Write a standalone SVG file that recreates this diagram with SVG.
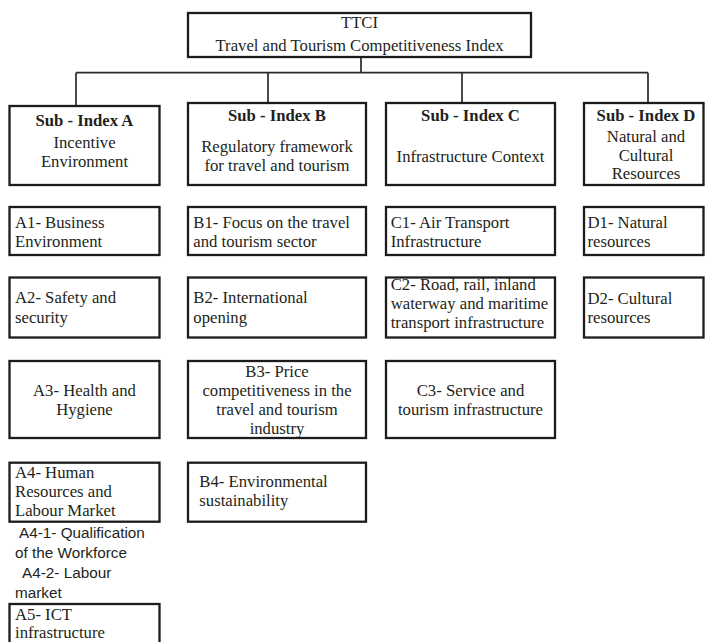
<svg xmlns="http://www.w3.org/2000/svg" width="705" height="642" viewBox="0 0 705 642">
<style>
  .box { fill: #ffffff; stroke: #1c1c1c; stroke-width: 2.3; }
  .conn { fill: none; stroke: #2a2a2a; stroke-width: 1.7; }
  text { font-family: "Liberation Serif", "Times New Roman", serif; font-size: 16.7px; fill: #231f20; }
  .c { text-anchor: middle; }
  .b { font-weight: bold; }
  .sans { font-family: "Liberation Sans", Arial, sans-serif; font-size: 15.3px; }
</style>
<rect width="705" height="642" fill="#ffffff"/>

<g id="connectors">
  <path class="conn" d="M361 57 V72.7"/>
  <path class="conn" d="M76 72.7 H648"/>
  <path class="conn" d="M76 72.7 V106"/>
  <path class="conn" d="M268 72.7 V103"/>
  <path class="conn" d="M462 72.7 V103"/>
  <path class="conn" d="M648 72.7 V103"/>
</g>

<g id="ttci">
  <rect class="box" x="188" y="13" width="343" height="44"/>
  <text class="c" x="359.5" y="28">TTCI</text>
  <text class="c" x="359.5" y="51">Travel and Tourism Competitiveness Index</text>
</g>

<g id="sub-a">
  <rect class="box" x="9.5" y="106" width="150" height="79"/>
  <text class="c b" x="84.5" y="126">Sub - Index A</text>
  <text class="c" x="84.5" y="148">Incentive</text>
  <text class="c" x="84.5" y="166.7">Environment</text>
</g>
<g id="sub-b">
  <rect class="box" x="188" y="103" width="178" height="82"/>
  <text class="c b" x="277" y="120.7">Sub - Index B</text>
  <text class="c" x="277" y="151.5">Regulatory framework</text>
  <text class="c" x="277" y="171">for travel and tourism</text>
</g>
<g id="sub-c">
  <rect class="box" x="386" y="103" width="169" height="82"/>
  <text class="c b" x="470.5" y="120.7">Sub - Index C</text>
  <text class="c" x="470.5" y="161.7">Infrastructure Context</text>
</g>
<g id="sub-d">
  <rect class="box" x="584" y="103" width="119.5" height="82"/>
  <text class="c b" x="646" y="120.7">Sub - Index D</text>
  <text class="c" x="646" y="141.7">Natural and</text>
  <text class="c" x="646" y="160.7">Cultural</text>
  <text class="c" x="646" y="179.3">Resources</text>
</g>

<g id="a1">
  <rect class="box" x="9.5" y="207" width="150" height="48"/>
  <text x="15" y="228.3">A1- Business</text>
  <text x="15" y="247.3">Environment</text>
</g>
<g id="b1">
  <rect class="box" x="188" y="207" width="178" height="48"/>
  <text x="193.3" y="228.3">B1- Focus on the travel</text>
  <text x="193.3" y="247.3">and tourism sector</text>
</g>
<g id="c1">
  <rect class="box" x="386" y="207" width="169" height="48"/>
  <text x="390.7" y="228.3">C1- Air Transport</text>
  <text x="390.7" y="247.3">Infrastructure</text>
</g>
<g id="d1">
  <rect class="box" x="584" y="207" width="119.5" height="48"/>
  <text x="587.5" y="228.3">D1- Natural</text>
  <text x="587.5" y="247.3">resources</text>
</g>

<g id="a2">
  <rect class="box" x="9.5" y="277.5" width="150" height="60"/>
  <text x="15" y="303.3">A2- Safety and</text>
  <text x="15" y="322.7">security</text>
</g>
<g id="b2">
  <rect class="box" x="188" y="277.5" width="178" height="60"/>
  <text x="193.3" y="303.3">B2- International</text>
  <text x="193.3" y="322.7">opening</text>
</g>
<g id="c2">
  <rect class="box" x="386" y="277.5" width="169" height="60"/>
  <text x="390.7" y="290">C2- Road, rail, inland</text>
  <text x="390.7" y="309">waterway and maritime</text>
  <text x="390.7" y="328.3">transport infrastructure</text>
</g>
<g id="d2">
  <rect class="box" x="584" y="277.5" width="119.5" height="60"/>
  <text x="587.5" y="304">D2- Cultural</text>
  <text x="587.5" y="323">resources</text>
</g>

<g id="a3">
  <rect class="box" x="9.5" y="361" width="150" height="77"/>
  <text class="c" x="84.5" y="395.7">A3- Health and</text>
  <text class="c" x="84.5" y="415">Hygiene</text>
</g>
<g id="b3">
  <rect class="box" x="188" y="361" width="178" height="77"/>
  <text class="c" x="277" y="376.7">B3- Price</text>
  <text class="c" x="277" y="395.7">competitiveness in the</text>
  <text class="c" x="277" y="415">travel and tourism</text>
  <text class="c" x="277" y="434">industry</text>
</g>
<g id="c3">
  <rect class="box" x="386" y="361" width="169" height="77"/>
  <text class="c" x="470.5" y="395.7">C3- Service and</text>
  <text class="c" x="470.5" y="415">tourism infrastructure</text>
</g>

<g id="a4">
  <rect class="box" x="9.5" y="462.7" width="150" height="59"/>
  <text x="15" y="478.3">A4- Human</text>
  <text x="15" y="497.3">Resources and</text>
  <text x="15" y="516">Labour Market</text>
</g>
<g id="a4-sub">
  <text class="sans" x="19" y="538">A4-1- Qualification</text>
  <text class="sans" x="15" y="558">of the Workforce</text>
  <text class="sans" x="22" y="578">A4-2- Labour</text>
  <text class="sans" x="15" y="598">market</text>
</g>
<g id="b4">
  <rect class="box" x="188" y="462.7" width="178" height="59"/>
  <text x="199.3" y="486.7">B4- Environmental</text>
  <text x="199.3" y="505.7">sustainability</text>
</g>

<g id="a5">
  <rect class="box" x="9.5" y="604" width="150" height="60"/>
  <text x="15" y="620">A5- ICT</text>
  <text x="15" y="638.3">infrastructure</text>
</g>
</svg>
